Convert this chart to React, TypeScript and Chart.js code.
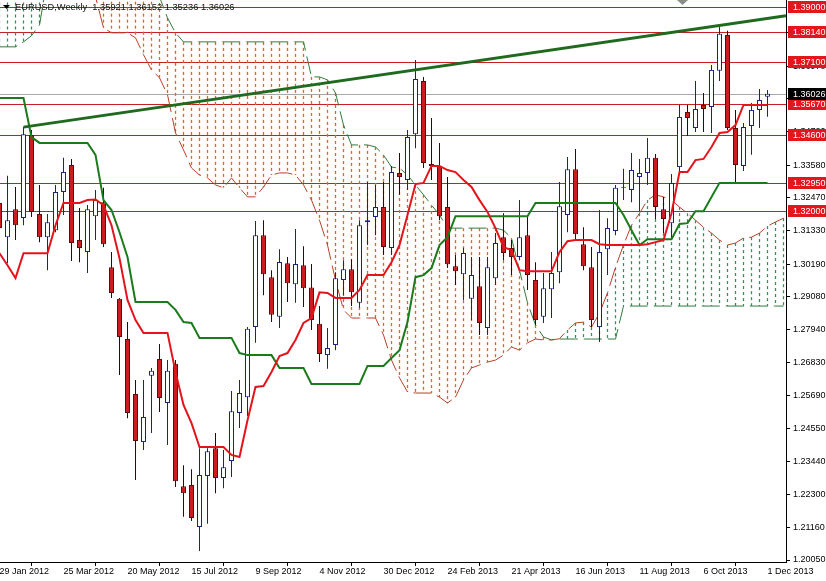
import React, { useEffect, useRef } from 'react';
import { Chart, registerables } from 'chart.js';

Chart.register(...registerables);

// ---------- data ----------
const symbolTitle = 'EURUSD,Weekly';
const dateLabels = ['29 Jan 2012', '25 Mar 2012', '20 May 2012', '15 Jul 2012', '9 Sep 2012', '4 Nov 2012', '30 Dec 2012', '24 Feb 2013', '21 Apr 2013', '16 Jun 2013', '11 Aug 2013', '6 Oct 2013', '1 Dec 2013'];
const dateTickIdx = [0, 8, 16, 24, 32, 40, 48, 56, 64, 72, 80, 88, 96];

const opens = [1.3228, 1.3111, 1.3207, 1.3177, 1.3461, 1.3190, 1.3111, 1.3135, 1.3266, 1.3358, 1.3101, 1.3060, 1.3183, 1.3231, 1.3008, 1.2900, 1.2762, 1.2574, 1.2409, 1.2636, 1.2694, 1.2543, 1.2677, 1.2258, 1.2262, 1.2118, 1.2293, 1.2388, 1.2286, 1.2344, 1.2509, 1.2563, 1.2803, 1.3118, 1.2974, 1.2838, 1.3022, 1.2950, 1.3015, 1.2939, 1.2814, 1.2707, 1.2742, 1.2964, 1.3001, 1.2886, 1.3162, 1.3180, 1.3214, 1.3074, 1.3331, 1.3307, 1.3464, 1.3646, 1.3362, 1.3355, 1.3214, 1.3011, 1.2984, 1.2900, 1.2943, 1.2800, 1.2970, 1.3111, 1.3074, 1.3043, 1.3118, 1.2964, 1.2838, 1.2933, 1.2991, 1.3187, 1.3344, 1.3087, 1.3008, 1.2803, 1.3070, 1.3132, 1.3280, 1.3273, 1.3317, 1.3331, 1.3383, 1.3207, 1.3159, 1.3351, 1.3540, 1.3485, 1.3564, 1.3557, 1.3681, 1.3804, 1.3485, 1.3355, 1.3492, 1.3547, 1.35921];
const highs = [1.3256, 1.3321, 1.3283, 1.3488, 1.3478, 1.3290, 1.3190, 1.3290, 1.3383, 1.3379, 1.3211, 1.3221, 1.3273, 1.3280, 1.3060, 1.2903, 1.2820, 1.2622, 1.2622, 1.2663, 1.2745, 1.2690, 1.2690, 1.2330, 1.2316, 1.2388, 1.2388, 1.2440, 1.2382, 1.2584, 1.2622, 1.2803, 1.3166, 1.3169, 1.2998, 1.3070, 1.3043, 1.3139, 1.3080, 1.3019, 1.2875, 1.2800, 1.2991, 1.3032, 1.3035, 1.3169, 1.3300, 1.3290, 1.3300, 1.3355, 1.3399, 1.3478, 1.3718, 1.3660, 1.3519, 1.3434, 1.3317, 1.3050, 1.3074, 1.3043, 1.3043, 1.3043, 1.3125, 1.3193, 1.3101, 1.3238, 1.3180, 1.3025, 1.2988, 1.3060, 1.3300, 1.3386, 1.3413, 1.3145, 1.3077, 1.3204, 1.3176, 1.3290, 1.3345, 1.3399, 1.3379, 1.3451, 1.3396, 1.3249, 1.3327, 1.3564, 1.3564, 1.3646, 1.3605, 1.3701, 1.3831, 1.3818, 1.3547, 1.3502, 1.3571, 1.3619, 1.36152];
const lows = [1.3118, 1.3022, 1.3101, 1.3152, 1.3180, 1.3094, 1.2998, 1.3128, 1.3187, 1.3029, 1.3025, 1.2988, 1.3101, 1.3077, 1.2903, 1.2639, 1.2491, 1.2279, 1.2382, 1.2440, 1.2512, 1.2399, 1.2255, 1.2153, 1.2139, 1.2036, 1.2129, 1.2234, 1.2251, 1.2289, 1.2457, 1.2498, 1.2749, 1.2912, 1.2820, 1.2800, 1.2889, 1.2886, 1.2872, 1.2793, 1.2683, 1.2660, 1.2724, 1.2912, 1.2875, 1.2869, 1.3084, 1.3118, 1.3050, 1.3050, 1.3256, 1.3273, 1.3416, 1.3348, 1.3307, 1.3169, 1.3005, 1.2947, 1.2896, 1.2827, 1.2776, 1.2776, 1.2947, 1.3032, 1.2981, 1.3032, 1.2930, 1.2810, 1.2817, 1.2834, 1.2953, 1.3128, 1.3101, 1.2998, 1.2803, 1.2752, 1.2981, 1.3118, 1.3238, 1.3231, 1.3200, 1.3290, 1.3173, 1.3125, 1.3101, 1.3331, 1.3458, 1.3471, 1.3471, 1.3468, 1.3646, 1.3478, 1.3297, 1.3338, 1.3393, 1.3485, 1.35236];
const closes = [1.3142, 1.3169, 1.3152, 1.3464, 1.3197, 1.3111, 1.3162, 1.3266, 1.3334, 1.3091, 1.3074, 1.3207, 1.3238, 1.3087, 1.2920, 1.2769, 1.2509, 1.2413, 1.2495, 1.2653, 1.2560, 1.2653, 1.2275, 1.2234, 1.2149, 1.2296, 1.2378, 1.2286, 1.2323, 1.2515, 1.2577, 1.2797, 1.3118, 1.2984, 1.2845, 1.3026, 1.2953, 1.3019, 1.2936, 1.2827, 1.2711, 1.2731, 1.2970, 1.3001, 1.2922, 1.3152, 1.3169, 1.3214, 1.3077, 1.3334, 1.3317, 1.3454, 1.3653, 1.3365, 1.3355, 1.3183, 1.3018, 1.2994, 1.3057, 1.2981, 1.2817, 1.3008, 1.3091, 1.3057, 1.3043, 1.3111, 1.2981, 1.2827, 1.2936, 1.2988, 1.3217, 1.3344, 1.3121, 1.3011, 1.2827, 1.3060, 1.3142, 1.3280, 1.3283, 1.3341, 1.3331, 1.3383, 1.3214, 1.3173, 1.3297, 1.3523, 1.3519, 1.3550, 1.3550, 1.3684, 1.3808, 1.3485, 1.3358, 1.3488, 1.3547, 1.3581, 1.36026];

const tenkan = [1.3056, 1.3015, 1.2971, 1.3056, 1.3056, 1.3056, 1.3056, 1.3152, 1.3228, 1.3228, 1.3228, 1.3238, 1.3240, 1.3221, 1.3152, 1.3039, 1.2896, 1.2827, 1.2783, 1.2783, 1.2783, 1.2783, 1.2649, 1.2536, 1.2474, 1.2392, 1.2392, 1.2392, 1.2392, 1.2365, 1.2358, 1.2484, 1.2598, 1.2601, 1.2649, 1.2704, 1.2714, 1.2759, 1.2817, 1.2834, 1.2922, 1.2920, 1.2903, 1.2903, 1.2903, 1.2930, 1.2981, 1.2981, 1.2981, 1.3025, 1.3084, 1.3187, 1.3293, 1.3297, 1.3355, 1.3355, 1.3341, 1.3334, 1.3307, 1.3283, 1.3238, 1.3197, 1.3142, 1.3077, 1.3067, 1.2998, 1.2994, 1.2994, 1.2994, 1.2994, 1.3060, 1.3097, 1.3101, 1.3101, 1.3101, 1.3087, 1.3084, 1.3084, 1.3084, 1.3084, 1.3084, 1.3087, 1.3094, 1.3101, 1.3193, 1.3334, 1.3334, 1.3375, 1.3379, 1.3420, 1.3468, 1.3471, 1.3495, 1.3564, 1.3564, 1.3564, 1.3564];
const kijun = [1.3588, 1.3588, 1.3588, 1.3588, 1.3454, 1.3434, 1.3434, 1.3434, 1.3434, 1.3434, 1.3434, 1.3434, 1.3393, 1.3238, 1.3204, 1.3128, 1.3043, 1.2889, 1.2889, 1.2889, 1.2889, 1.2889, 1.2862, 1.2820, 1.2817, 1.2766, 1.2766, 1.2766, 1.2766, 1.2766, 1.2714, 1.2707, 1.2707, 1.2707, 1.2707, 1.2663, 1.2663, 1.2663, 1.2663, 1.2608, 1.2608, 1.2608, 1.2608, 1.2608, 1.2608, 1.2608, 1.2670, 1.2670, 1.2670, 1.2697, 1.2724, 1.2820, 1.2974, 1.2981, 1.3005, 1.3084, 1.3111, 1.3183, 1.3183, 1.3183, 1.3183, 1.3183, 1.3183, 1.3183, 1.3183, 1.3183, 1.3183, 1.3228, 1.3228, 1.3228, 1.3228, 1.3228, 1.3228, 1.3228, 1.3228, 1.3228, 1.3228, 1.3228, 1.3187, 1.3135, 1.3084, 1.3104, 1.3104, 1.3104, 1.3104, 1.3156, 1.3159, 1.3200, 1.3200, 1.3249, 1.3297, 1.3297, 1.3297, 1.3297, 1.3297, 1.3297, 1.3297];
// Senkou spans (already shifted forward; two extra bars beyond the last candle)
const spanA = [1.4100, 1.4100, 1.4100, 1.4100, 1.4100, 1.4100, 1.3980, 1.3980, 1.3980, 1.3980, 1.3980, 1.3980, 1.3935, 1.3828, 1.3811, 1.3811, 1.3811, 1.3794, 1.3736, 1.3684, 1.3657, 1.3599, 1.3468, 1.3410, 1.3348, 1.3324, 1.3314, 1.3290, 1.3280, 1.3314, 1.3280, 1.3249, 1.3249, 1.3283, 1.3324, 1.3331, 1.3331, 1.3324, 1.3290, 1.3238, 1.3169, 1.3084, 1.2964, 1.2862, 1.2834, 1.2834, 1.2834, 1.2834, 1.2776, 1.2690, 1.2629, 1.2581, 1.2577, 1.2577, 1.2577, 1.2563, 1.2543, 1.2563, 1.2622, 1.2663, 1.2673, 1.2683, 1.2690, 1.2707, 1.2735, 1.2724, 1.2749, 1.2762, 1.2759, 1.2759, 1.2763, 1.2793, 1.2817, 1.2820, 1.2803, 1.2851, 1.2920, 1.3008, 1.3084, 1.3152, 1.3193, 1.3238, 1.3256, 1.3249, 1.3238, 1.3214, 1.3193, 1.3169, 1.3145, 1.3125, 1.3101, 1.3084, 1.3091, 1.3108, 1.3111, 1.3125, 1.3149, 1.3163, 1.3176];
const spanB = [1.3763, 1.3763, 1.3763, 1.3780, 1.3801, 1.3838, 1.4000, 1.4000, 1.4000, 1.4000, 1.4000, 1.4000, 1.4000, 1.4000, 1.4000, 1.4000, 1.4000, 1.4000, 1.4000, 1.4000, 1.3934, 1.3862, 1.3811, 1.3780, 1.3780, 1.3780, 1.3780, 1.3780, 1.3780, 1.3780, 1.3780, 1.3780, 1.3780, 1.3780, 1.3780, 1.3780, 1.3780, 1.3780, 1.3780, 1.3660, 1.3660, 1.3650, 1.3605, 1.3495, 1.3427, 1.3427, 1.3427, 1.3420, 1.3393, 1.3351, 1.3348, 1.3324, 1.3290, 1.3256, 1.3221, 1.3187, 1.3142, 1.3142, 1.3142, 1.3142, 1.3142, 1.3142, 1.3142, 1.3135, 1.3108, 1.2998, 1.2886, 1.2810, 1.2769, 1.2759, 1.2762, 1.2762, 1.2762, 1.2762, 1.2762, 1.2762, 1.2762, 1.2762, 1.2875, 1.2875, 1.2875, 1.2875, 1.2875, 1.2875, 1.2875, 1.2875, 1.2875, 1.2875, 1.2875, 1.2875, 1.2875, 1.2875, 1.2875, 1.2875, 1.2875, 1.2875, 1.2875, 1.2875, 1.2875];

const levelLines = [1.39, 1.3814, 1.371, 1.3567, 1.346, 1.3295, 1.32];
const bidPrice = 1.36026;
const yTickValues = [1.2005, 1.2116, 1.223, 1.2344, 1.2455, 1.2569, 1.2683, 1.2794, 1.2908, 1.3019, 1.3133, 1.3247, 1.3358, 1.3472, 1.3586, 1.3697, 1.3811];
const trendBars = [3, 90];
const trendPrices = [1.3488, 1.3836];

// ---------- view window ----------
const X_MIN = 0.0625;
const X_MAX = 98.3125;
const Y_MIN = 1.19982;
const Y_MAX = 1.39235;

const FONT = '"Liberation Sans", Arial, sans-serif';
const C = {
  bullLine: '#1c1c9a',
  bearFill: '#cc1c1c',
  bearLine: '#5c0c0c',
  bearWick: '#2a0a0a',
  tenkan: '#e3141c',
  kijun: '#1b7a1b',
  trend: '#1f6a1f',
  spanA: '#b5412b',
  spanB: '#2f7d3a',
  cloudBear: '#e0622a',
  cloudBull: '#3a8a5c',
  cloudBearHalo: 'rgba(240,110,60,0.16)',
  cloudBullHalo: 'rgba(60,150,110,0.14)',
  level: '#c42026',
  levelBox: '#e3161c',
  bid: '#a8a8a8',
};

const overlayPlugin = {
  id: 'mtOverlay',
  beforeDatasetsDraw(chart: any) {
    const { ctx, chartArea: a, scales } = chart;
    const xs = scales.x;
    const ys = scales.y;
    ctx.save();
    ctx.beginPath();
    ctx.rect(a.left, a.top, a.right - a.left, a.bottom - a.top);
    ctx.clip();
    ctx.lineWidth = 1;
    // bid line
    const by = Math.round(ys.getPixelForValue(bidPrice)) + 0.5;
    ctx.strokeStyle = C.bid;
    ctx.beginPath();
    ctx.moveTo(a.left, by);
    ctx.lineTo(a.right, by);
    ctx.stroke();
    // horizontal levels
    ctx.strokeStyle = C.level;
    for (const v of levelLines) {
      const py = Math.round(ys.getPixelForValue(v)) + 0.5;
      ctx.beginPath();
      ctx.moveTo(a.left, py);
      ctx.lineTo(a.right, py);
      ctx.stroke();
    }
    // cloud hatch (soft halo + 1px dashed core)
    ctx.setLineDash([3, 3]);
    for (const pass of [0, 1]) {
      ctx.lineWidth = pass === 0 ? 3 : 1;
      for (let i = 0; i < spanA.length; i++) {
        const px = xs.getPixelForValue(i);
        const ya = ys.getPixelForValue(spanA[i]);
        const yb = ys.getPixelForValue(spanB[i]);
        const bull = spanA[i] >= spanB[i];
        ctx.strokeStyle = pass === 0 ? (bull ? C.cloudBullHalo : C.cloudBearHalo) : (bull ? C.cloudBull : C.cloudBear);
        ctx.beginPath();
        ctx.moveTo(px, Math.min(ya, yb));
        ctx.lineTo(px, Math.max(ya, yb));
        ctx.stroke();
      }
    }
    ctx.restore();
  },
  afterDraw(chart: any) {
    const { ctx, chartArea: a, scales } = chart;
    const ys = scales.y;
    ctx.save();
    ctx.font = `9px ${FONT}`;
    ctx.textBaseline = 'middle';
    ctx.textAlign = 'left';
    const boxX = a.right + 2;
    const boxW = chart.width - boxX;
    for (const v of levelLines) {
      const py = Math.round(ys.getPixelForValue(v));
      ctx.fillStyle = C.levelBox;
      ctx.fillRect(boxX, py - 6, boxW, 12);
      ctx.fillStyle = '#ffffff';
      ctx.fillText(v.toFixed(5), a.right + 7, py + 0.5);
    }
    const bp = Math.round(ys.getPixelForValue(bidPrice));
    ctx.fillStyle = '#000000';
    ctx.fillRect(boxX, bp - 6, boxW, 12);
    ctx.fillStyle = '#ffffff';
    ctx.fillText(bidPrice.toFixed(5), a.right + 7, bp + 0.5);

    // header
    const n = closes.length - 1;
    const header = `${symbolTitle}  ${opens[n].toFixed(5)} ${highs[n].toFixed(5)} ${lows[n].toFixed(5)} ${closes[n].toFixed(5)}`;
    ctx.fillStyle = '#000000';
    ctx.beginPath();
    ctx.moveTo(3, 5);
    ctx.lineTo(10, 5);
    ctx.lineTo(6.5, 9);
    ctx.closePath();
    ctx.fill();
    ctx.font = `9.3px ${FONT}`;
    ctx.fillStyle = '#111111';
    ctx.fillText(header, 15, 7.5);

    // chart shift marker
    ctx.fillStyle = '#8c8c8c';
    ctx.beginPath();
    ctx.moveTo(677, 0);
    ctx.lineTo(688, 0);
    ctx.lineTo(682.5, 5);
    ctx.closePath();
    ctx.fill();
    ctx.restore();
  },
};

export default function App() {
  const ref = useRef<HTMLCanvasElement>(null);
  useEffect(() => {
    const canvas = ref.current;
    if (!canvas) return;

    const idx = closes.map((_, i) => i);
    const isBull = idx.map((i) => closes[i] >= opens[i]);

    const slope = (trendPrices[1] - trendPrices[0]) / (trendBars[1] - trendBars[0]);
    const trendData = [
      { x: trendBars[0], y: trendPrices[0] },
      { x: X_MAX, y: trendPrices[0] + slope * (X_MAX - trendBars[0]) },
    ];

    const lineDs = (label: string, data: any[], color: string, width: number, order: number, dash?: number[]) => ({
      type: 'line' as const,
      label,
      data,
      borderColor: color,
      backgroundColor: color,
      borderWidth: width,
      borderDash: dash || [],
      pointRadius: 0,
      tension: 0,
      fill: false,
      order,
    });

    const chart = new Chart(canvas, {
      type: 'line',
      data: {
        datasets: [
          lineDs('trend', trendData, C.trend, 3, 0),
          lineDs('tenkan', tenkan.map((v, i) => ({ x: i, y: v })), C.tenkan, 2, 1),
          lineDs('kijun', kijun.map((v, i) => ({ x: i, y: v })), C.kijun, 2, 2),
          {
            type: 'bar' as const,
            label: 'body',
            data: idx.map((i) => ({ x: i, y: [opens[i], closes[i]] })) as any,
            backgroundColor: idx.map((i) => (isBull[i] ? '#ffffff' : C.bearFill)),
            borderColor: idx.map((i) => (isBull[i] ? C.bullLine : C.bearLine)),
            borderWidth: 1,
            borderSkipped: false,
            barThickness: 5,
            grouped: false,
            minBarLength: 1,
            inflateAmount: 0,
            order: 3,
          } as any,
          {
            type: 'bar' as const,
            label: 'wick',
            data: idx.map((i) => ({ x: i, y: [lows[i], highs[i]] })) as any,
            backgroundColor: idx.map((i) => (isBull[i] ? C.bullLine : C.bearWick)),
            borderWidth: 0,
            barThickness: 1,
            grouped: false,
            inflateAmount: 0,
            order: 4,
          } as any,
          lineDs('spanA', spanA.map((v, i) => ({ x: i, y: v })), C.spanA, 1, 5, [18, 6]),
          lineDs('spanB', spanB.map((v, i) => ({ x: i, y: v })), C.spanB, 1, 6, [18, 6]),
        ],
      },
      options: {
        responsive: false,
        animation: false,
        devicePixelRatio: 1,
        layout: { padding: 0 },
        plugins: { legend: { display: false }, tooltip: { enabled: false } },
        events: [],
        scales: {
          x: {
            type: 'linear',
            position: 'bottom',
            min: X_MIN,
            max: X_MAX,
            offset: false,
            grid: { drawOnChartArea: false, drawTicks: true, tickLength: 4, color: '#000000' },
            border: { display: true, color: '#000000' },
            ticks: {
              autoSkip: false,
              maxRotation: 0,
              minRotation: 0,
              align: 'start',
              padding: 0,
              color: '#000000',
              font: { family: FONT, size: 9 },
              callback: (v: any) => {
                const k = dateTickIdx.indexOf(Number(v));
                return k >= 0 ? dateLabels[k] : '';
              },
            },
            afterBuildTicks: (scale: any) => {
              scale.ticks = dateTickIdx.map((v) => ({ value: v }));
            },
            afterFit: (scale: any) => {
              scale.height = 19;
              scale.paddingLeft = 0;
              scale.paddingRight = 0;
            },
          },
          y: {
            type: 'linear',
            position: 'right',
            min: Y_MIN,
            max: Y_MAX,
            grid: { drawOnChartArea: false, drawTicks: true, tickLength: 4, color: '#000000' },
            border: { display: true, color: '#000000' },
            ticks: {
              autoSkip: false,
              padding: 3,
              color: '#000000',
              font: { family: FONT, size: 9 },
              callback: (v: any) => Number(v).toFixed(5),
            },
            afterBuildTicks: (scale: any) => {
              scale.ticks = yTickValues.map((v) => ({ value: v }));
            },
            afterFit: (scale: any) => {
              scale.width = 40;
              scale.paddingTop = 0;
              scale.paddingBottom = 0;
            },
          },
        },
      } as any,
      plugins: [overlayPlugin],
    });
    return () => chart.destroy();
  }, []);

  return (
    <div style={{ position: 'fixed', left: 0, top: 0, width: 826, height: 581, background: '#ffffff' }}>
      <canvas ref={ref} width={826} height={581} style={{ display: 'block', width: 826, height: 581 }} />
    </div>
  );
}
